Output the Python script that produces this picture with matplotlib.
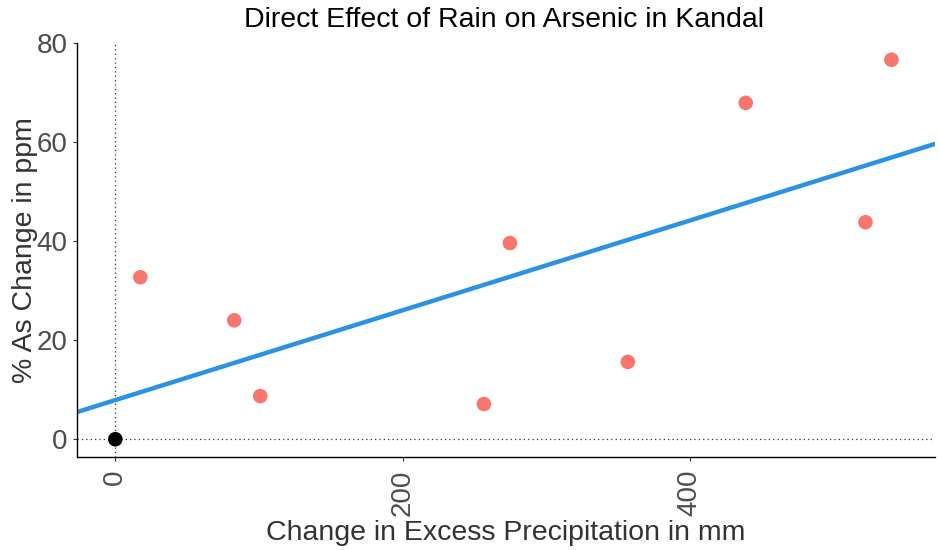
import numpy as np
import matplotlib
matplotlib.use("Agg")
import matplotlib.pyplot as plt

plt.rcParams['font.family'] = ['Liberation Sans', 'DejaVu Sans']

# red points (rain years)
precip = [17.4, 82.8, 100.9, 256.7, 274.8, 356.9, 439.0, 522.4, 540.5]
as_change = [32.7, 24.0, 8.7, 7.1, 39.6, 15.6, 67.9, 43.8, 76.6]
# reference point
ref_x = [0]
ref_y = [0]
# fitted line
intercept = 7.9
slope = 0.0906

xticks = [0, 200, 400]
yticks = [0, 20, 40, 60, 80]

fig = plt.figure(figsize=(9.39, 5.5), dpi=100)
ax = fig.add_axes([0.082, 0.169, 0.914, 0.753])

ax.axvline(0, color='#333333', linestyle=(0, (1, 2.5)), linewidth=0.9, zorder=1)
ax.axhline(0, color='#333333', linestyle=(0, (1, 2.5)), linewidth=0.9, zorder=1)

ax.axline((0, intercept), slope=slope, color='#2b93e3', linewidth=3.2, zorder=2)
ax.scatter(precip, as_change, s=110, color='#F8766D', edgecolors='none', zorder=3)
ax.scatter(ref_x, ref_y, s=110, color='black', edgecolors='none', zorder=4)

ax.set_xlim(-26.7, 571)
ax.set_ylim(-3.6, 80)
ax.set_xticks(xticks)
ax.set_yticks(yticks)
ax.set_xticklabels([str(v) for v in xticks], rotation=90)

for s in ['top', 'right']:
    ax.spines[s].set_visible(False)
for s in ['left', 'bottom']:
    ax.spines[s].set_color('black')
    ax.spines[s].set_linewidth(1.0)

ax.tick_params(axis='both', colors='#333333', labelcolor='#4d4d4d',
               labelsize=20, length=3, width=0.8)
ax.tick_params(axis='x', pad=6)
ax.tick_params(axis='y', pad=4)

# title placed in figure coords
fig.text(0.537, 0.964, 'Direct Effect of Rain on Arsenic in Kandal', fontsize=20.5,
         color='black', ha='center', va='center')
ax.set_xlabel('Change in Excess Precipitation in mm', fontsize=20.5, color='#333333', labelpad=3)
ax.set_ylabel('% As Change in ppm', fontsize=20.5, color='#333333', labelpad=-1.5)

fig.savefig('out.png', dpi=100)
